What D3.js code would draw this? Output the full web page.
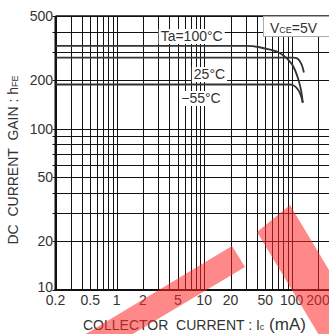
<!DOCTYPE html>
<html>
<head>
<meta charset="utf-8">
<script src="https://cdn.jsdelivr.net/npm/d3@7"></script>
<style>
  html, body { margin: 0; padding: 0; background: #fff; }
  svg { display: block; font-family: "Liberation Sans", Arial, sans-serif; }
</style>
</head>
<body>
<svg id="chart" width="329" height="334"></svg>
<script>
// Collector current (mA) and DC current gain for each ambient temperature
const icTa100 = [0.2, 30, 43, 55, 73, 90, 104, 115, 124, 130, 134];
const hfeTa100 = [326, 326, 320, 310, 295, 270, 244, 215, 187, 165, 145];

const icTa25 = [0.2, 105, 114, 120, 124, 130, 134, 138];
const hfeTa25 = [276, 276, 274, 268, 262, 250, 238, 223];

const icTaM55 = [0.2, 95, 104, 115, 124, 130, 134];
const hfeTaM55 = [188, 188, 186, 178, 167, 155, 145];

const xTickLabels = [0.2, 0.5, 1, 2, 5, 10, 20, 50, 100, 200];
const yTickLabels = [10, 20, 50, 100, 200, 500];
const curveLabels = ["Ta=100°C", "25°C", "−55°C"];

const svg = d3.select("#chart");
const W = 329, H = 334;

const x = d3.scaleLog().domain([0.2, 200]).range([55.5, 318]);
const y = d3.scaleLog().domain([10, 500]).range([290, 16]);

// grid values: 1..9 per decade
const xGrid = [];
[0.1, 1, 10, 100].forEach(d => { for (let k = 1; k <= 9; k++) { const v = +(k * d).toPrecision(3); if (v >= 0.2 && v <= 300) xGrid.push(v); } });
const yGrid = [];
[10, 100].forEach(d => { for (let k = 1; k <= 9; k++) { const v = k * d; if (v >= 10 && v <= 500) yGrid.push(v); } });

const g = svg.append("g");

// horizontal grid
g.selectAll("line.hg").data(yGrid).join("line")
  .attr("x1", x(0.2) - 3).attr("x2", W + 10)
  .attr("y1", d => Math.round(y(d)) + 0.5).attr("y2", d => Math.round(y(d)) + 0.5)
  .attr("stroke", "#111").attr("stroke-width", 1);

// vertical grid
g.selectAll("line.vg").data(xGrid).join("line")
  .attr("x1", d => Math.round(x(d)) + 0.5).attr("x2", d => Math.round(x(d)) + 0.5)
  .attr("y1", y(500)).attr("y2", y(10))
  .attr("stroke", "#111").attr("stroke-width", 1);

// frame
g.append("line").attr("x1", x(0.2)).attr("x2", x(0.2)).attr("y1", y(500)).attr("y2", y(10) + 1)
  .attr("stroke", "#111").attr("stroke-width", 2);
g.append("line").attr("x1", x(0.2) - 1).attr("x2", W + 10).attr("y1", y(10)).attr("y2", y(10))
  .attr("stroke", "#111").attr("stroke-width", 2);
g.append("line").attr("x1", x(0.2)).attr("x2", W + 10).attr("y1", y(500)).attr("y2", y(500))
  .attr("stroke", "#111").attr("stroke-width", 1.5);

// curves
const line = d3.line().x(d => x(d[0])).y(d => y(d[1])).curve(d3.curveMonotoneX);
const series = [
  [icTa100, hfeTa100],
  [icTa25, hfeTa25],
  [icTaM55, hfeTaM55]
];
series.forEach(([ic, hfe]) => {
  g.append("path").datum(ic.map((v, i) => [v, hfe[i]]))
    .attr("d", line).attr("fill", "none")
    .attr("stroke", "#333").attr("stroke-width", 1.8);
});

// curve labels with white backing
const labelPos = [
  { ic: 7.2, text: curveLabels[0], baseline: 41 },
  { ic: 11.5, text: curveLabels[1], baseline: 79 },
  { ic: 9.2, text: curveLabels[2], baseline: 103 }
];
labelPos.forEach(l => {
  const t = g.append("text").attr("x", x(l.ic)).attr("y", l.baseline)
    .attr("text-anchor", "middle").attr("font-size", 14).attr("fill", "#333").text(l.text);
  const b = t.node().getBBox();
  g.insert("rect", "text").attr("x", b.x - 2).attr("y", b.y + 1).attr("width", b.width + 4).attr("height", b.height - 1)
    .attr("fill", "#fff");
});

// VCE condition box
g.append("rect").attr("x", 263.5).attr("y", 16.5).attr("width", 80).attr("height", 20)
  .attr("fill", "#fff").attr("stroke", "#aaa").attr("stroke-width", 1);
const vt = g.append("text").attr("x", 270).attr("y", 33).attr("font-size", 14).attr("fill", "#333");
vt.append("tspan").text("V");
vt.append("tspan").attr("font-size", 9).text("CE");
vt.append("tspan").text("=5V");

// tick labels
svg.selectAll("text.xt").data(xTickLabels).join("text")
  .attr("x", d => x(d)).attr("y", 305)
  .attr("text-anchor", "middle").attr("font-size", 14).attr("fill", "#333")
  .text(d => d);
svg.selectAll("text.yt").data(yTickLabels).join("text")
  .attr("x", 53).attr("y", d => y(d) + (d === 10 ? 2 : 5))
  .attr("text-anchor", "end").attr("font-size", 14).attr("fill", "#333")
  .text(d => d);

// axis titles
const yt = svg.append("text").attr("transform", "translate(18,160) rotate(-90)")
  .attr("text-anchor", "middle").attr("font-size", 14).attr("fill", "#333")
  .style("white-space", "pre");
yt.append("tspan").text("DC  CURRENT  GAIN : h");
yt.append("tspan").attr("font-size", 9).text("FE");

const xt = svg.append("text").attr("x", 83).attr("y", 330).attr("font-size", 14).attr("fill", "#333")
  .style("white-space", "pre");
xt.append("tspan").text("COLLECTOR  CURRENT : I");
xt.append("tspan").attr("font-size", 9).text("c");
xt.append("tspan").attr("font-size", 17).text(" (mA)");

// translucent red stamp strokes across the lower part
const stamp = [
  [[232, 246], [245, 267], [116, 344], [69, 344]],
  [[257, 232], [290, 205], [374, 345], [325, 345]]
];
svg.selectAll("polygon.stamp").data(stamp).join("polygon")
  .attr("points", d => d.map(p => p.join(",")).join(" "))
  .attr("fill", "rgb(255,40,40)").attr("fill-opacity", 0.55);
</script>
</body>
</html>
